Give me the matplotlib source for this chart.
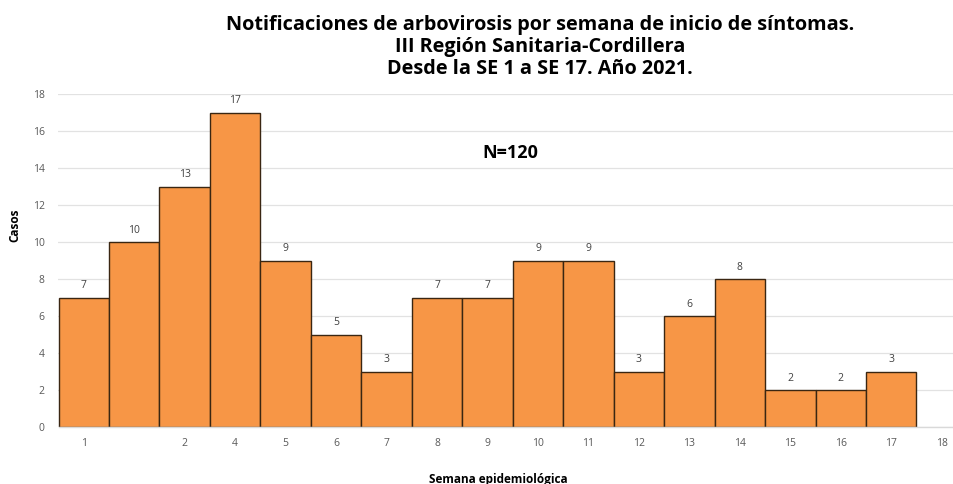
import matplotlib
matplotlib.use("Agg")
import matplotlib.pyplot as plt

weeks = list(range(1, 18))
cases = [7, 10, 13, 17, 9, 5, 3, 7, 7, 9, 9, 3, 6, 8, 2, 2, 3]
tick_labels = ["1", "", "2", "4", "5", "6", "7", "8", "9", "10", "11", "12",
               "13", "14", "15", "16", "17", "18"]
title = ("Notificaciones de arbovirosis por semana de inicio de síntomas.\n"
         "III Región Sanitaria-Cordillera\n"
         "Desde la SE 1 a SE 17. Año 2021.")

plt.rcParams['font.family'] = ['Open Sans', 'DejaVu Sans']

fig = plt.figure(figsize=(9.54, 4.84), dpi=100)
ax = fig.add_axes([58.5 / 954, 57 / 484, (18 * 50.47) / 954, 333 / 484])

ax.bar(weeks, cases, width=1.0, color="#F79646", edgecolor="#3a2612",
       linewidth=1.0, zorder=3)
for x, v in zip(weeks, cases):
    ax.text(x, v + 0.35, str(v), ha="center", va="bottom", fontsize=7.5,
            color="#404040", zorder=4)

ax.set_xlim(0.5, 18.5)
ax.set_ylim(0, 18)
ax.set_yticks(range(0, 19, 2))
ax.set_xticks(range(1, 19))
ax.set_xticklabels(tick_labels)
ax.tick_params(axis="both", length=0, labelsize=7.5, colors="#595959")
ax.tick_params(axis="x", pad=8)
ax.tick_params(axis="y", pad=10)
ax.grid(axis="y", color="#e2e2e2", linewidth=0.9, zorder=0)
for s in ["top", "right", "left"]:
    ax.spines[s].set_visible(False)
ax.spines["bottom"].set_color("#d9d9d9")
ax.spines["bottom"].set_linewidth(1.0)
ax.spines["bottom"].set_zorder(5)

fig.text(540 / 954, 1 - 47 / 484, title, ha="center", va="center",
         fontsize=14.3, fontweight="bold", linespacing=1.15)
fig.text(510 / 954, 1 - 153 / 484, "N=120", ha="center", va="center",
         fontsize=13, fontweight="bold")
fig.text(15 / 954, 1 - 225 / 484, "Casos", ha="center", va="center",
         rotation=90, fontsize=8.5, fontweight="bold")
fig.text(498 / 954, 1 - 479 / 484, "Semana epidemiológica", ha="center",
         va="center", fontsize=8.5, fontweight="bold")

fig.savefig("out.png", dpi=100)
